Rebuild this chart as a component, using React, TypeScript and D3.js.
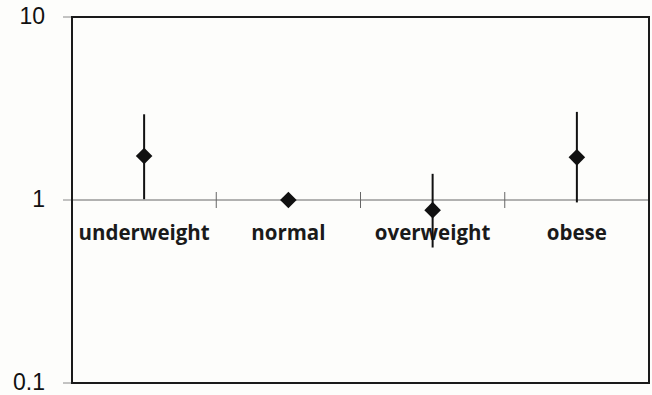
import React from "react";
import * as d3 from "d3";

// Odds ratios by BMI category with 95% confidence intervals
const categories = ["underweight", "normal", "overweight", "obese"];
const estimates = [1.74, 1.0, 0.88, 1.71];
const lowerCI = [1.01, null, 0.55, 0.97];
const upperCI = [2.94, null, 1.39, 3.03];
const yTicks = [0.1, 1, 10];
const yTickLabels = ["0.1", "1", "10"];

const W = 652;
const H = 395;
const margin = { left: 72, top: 17, right: 3, bottom: 12 };

export default function App() {
  const x = d3
    .scaleBand<string>()
    .domain(categories)
    .range([margin.left, W - margin.right])
    .paddingInner(0)
    .paddingOuter(0);
  const y = d3.scaleLog().domain([0.1, 10]).range([H - margin.bottom, margin.top]);
  const y1 = y(1);
  const diamond = d3.symbol().type(d3.symbolDiamond2).size(175)();
  const bounds = categories.slice(1).map((c) => x(c)!);

  return (
    <svg
      width={W}
      height={H}
      style={{ position: "fixed", left: 0, top: 0, background: "#fdfdfb" }}
    >
      {/* y-axis ticks and labels */}
      {yTicks.map((t, i) => (
        <g key={t}>
          <line x1={63} x2={margin.left} y1={y(t)} y2={y(t)} stroke="#888" strokeWidth={1} />
          <text
            x={45}
            y={y(t)}
            dy="0.3em"
            textAnchor="end"
            fontFamily="'Liberation Sans', Arial, sans-serif"
            fontSize={23}
            fill="#111"
          >
            {yTickLabels[i]}
          </text>
        </g>
      ))}
      {/* reference line at 1 */}
      <line x1={margin.left} x2={W - margin.right} y1={y1} y2={y1} stroke="#666" strokeWidth={1} />
      {bounds.map((b, i) => (
        <line key={i} x1={b} x2={b} y1={y1 - 8} y2={y1 + 8} stroke="#666" strokeWidth={1} />
      ))}
      {/* frame */}
      <rect
        x={margin.left}
        y={margin.top}
        width={W - margin.right - margin.left}
        height={H - margin.bottom - margin.top}
        fill="none"
        stroke="#1a1a1a"
        strokeWidth={2}
      />
      {/* category labels */}
      {categories.map((c) => (
        <text
          key={c}
          x={x(c)! + x.bandwidth() / 2}
          y={240}
          textAnchor="middle"
          fontFamily="'Open Sans', sans-serif"
          fontWeight="bold"
          fontSize={20.5}
          fill="#1a1a1a"
        >
          {c}
        </text>
      ))}
      {/* error bars and point estimates */}
      {categories.map((c, i) => {
        const cx = x(c)! + x.bandwidth() / 2;
        const lo = lowerCI[i];
        const hi = upperCI[i];
        return (
          <g key={c}>
            {lo != null && hi != null && (
              <line x1={cx} x2={cx} y1={y(lo)} y2={y(hi)} stroke="#111" strokeWidth={2} />
            )}
            <path d={diamond!} transform={`translate(${cx},${y(estimates[i])})`} fill="#111" />
          </g>
        );
      })}
    </svg>
  );
}
